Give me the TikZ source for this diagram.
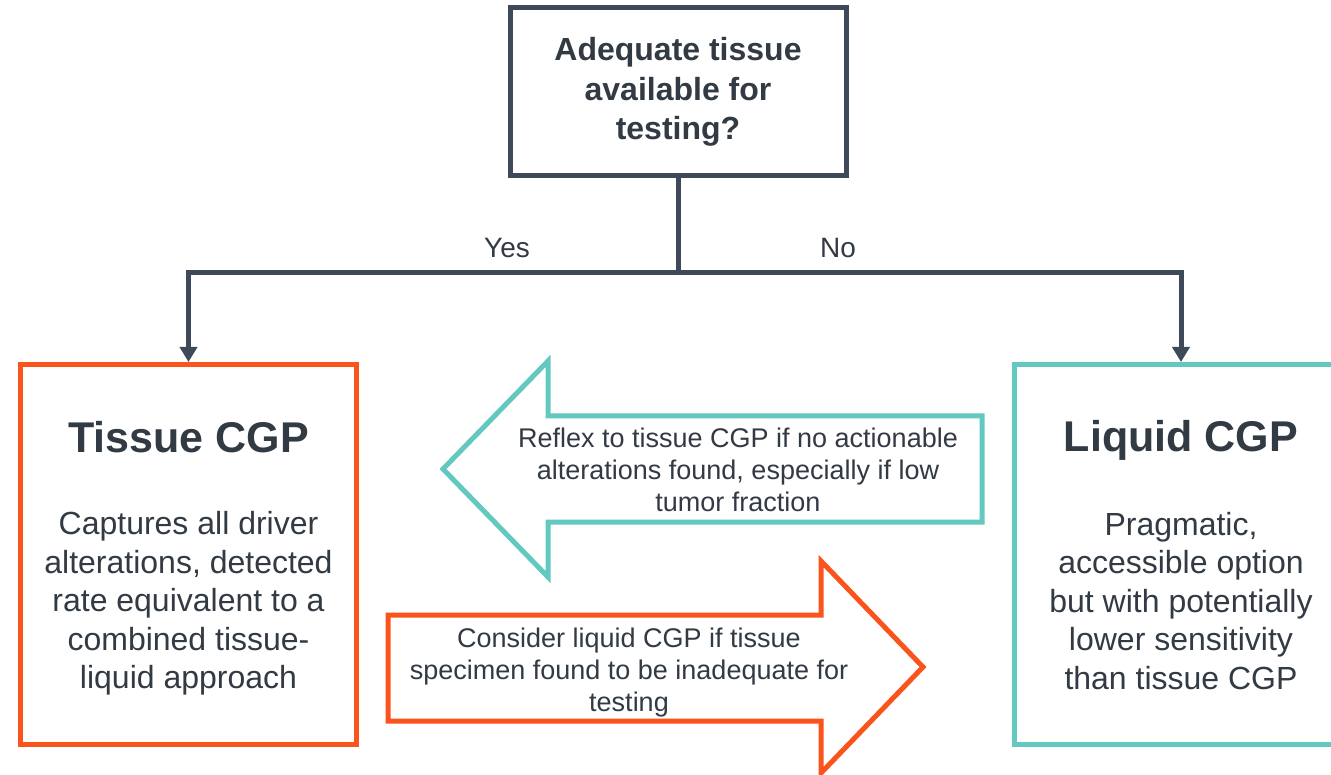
\documentclass[tikz,border=0pt]{standalone}
\usepackage{fontspec}
\setmainfont{Liberation Sans}
\usetikzlibrary{arrows.meta,positioning}
\definecolor{slate}{RGB}{62,74,89}
\definecolor{inkgray}{RGB}{50,58,68}
\definecolor{tissueorange}{RGB}{250,84,28}
\definecolor{liquidteal}{RGB}{98,200,192}
\tikzset{
  >={Triangle[length=15pt,width=17pt]},
  flow/.style={->,line width=5pt,draw=slate},
  qbox/.style={draw=slate,line width=5pt,minimum width=336pt,minimum height=168pt,
    align=center,text=inkgray,font=\bfseries\fontsize{32}{39.5}\selectfont},
  cgpbox/.style={draw=#1,line width=5pt,minimum width=336pt,minimum height=380pt},
  cgptitle/.style={text=inkgray,anchor=base,font=\bfseries\fontsize{43}{50}\selectfont},
  cgpbody/.style={text=inkgray,align=center,font=\fontsize{32}{38.5}\selectfont},
  bigarrow/.style={draw=#1,line width=5pt,line join=miter},
  arrowtext/.style={text=inkgray,align=center,font=\fontsize{27}{32}\selectfont},
  branchlbl/.style={text=inkgray,anchor=base,font=\fontsize{28}{34}\selectfont},
}
\begin{document}
\begin{tikzpicture}[x=1pt,y=-1pt]
  % page is 1331 x 775, y runs downward; the liquid box runs off the right edge
  \useasboundingbox (0,0) rectangle (1331,775);
  \clip (0,0) rectangle (1331,775);
  \fill[white] (0,0) rectangle (1331,775);
  % --- question and the yes/no split ---
  \node[qbox] (question) at (678,92) {Adequate tissue\\available for\\testing?};
  \coordinate (split) at (678,273);
  \node[branchlbl] (yes) at (507,258) {Yes};
  \node[branchlbl] (no) at (838,258) {No};
  % --- tissue CGP ---
  \node[cgpbox=tissueorange] (tissue) at (188.5,554.5) {};
  \node[cgptitle] (tissuetitle) at (188.5,453) {Tissue CGP};
  \node[cgpbody] (tissuebody) at (188.5,603.5)
    {Captures all driver\\alterations, detected\\rate equivalent to a\\combined tissue-\\liquid approach};
  % --- liquid CGP ---
  \node[cgpbox=liquidteal,minimum width=333pt] (liquid) at (1181,554.5) {};
  \node[cgptitle] (liquidtitle) at (1181,452) {Liquid CGP};
  \node[cgpbody] (liquidbody) at (1181,601)
    {Pragmatic,\\accessible option\\but with potentially\\lower sensitivity\\than tissue CGP};
  % --- branch connectors ---
  \draw[line width=5pt,draw=slate] (question.south) -- (split);
  \draw[flow] (split) -| (tissue.north);
  \draw[flow] (split) -| (liquid.north);
  % --- reflex arrow, pointing left ---
  \draw[bigarrow=liquidteal] (982,416) -- (548,416) -- (548,361) -- (443,469)
    -- (548,577) -- (548,522) -- (982,522) -- cycle;
  \node[arrowtext] (reflex) at (738,470)
    {Reflex to tissue CGP if no actionable\\alterations found, especially if low\\tumor fraction};
  % --- consider arrow, pointing right ---
  \draw[bigarrow=tissueorange] (388,615) -- (821,615) -- (821,561) -- (923,667)
    -- (821,773) -- (821,721) -- (388,721) -- cycle;
  \node[arrowtext] (consider) at (629,672.5)
    {Consider liquid CGP if tissue\\specimen found to be inadequate for\\testing};
\end{tikzpicture}
\end{document}
